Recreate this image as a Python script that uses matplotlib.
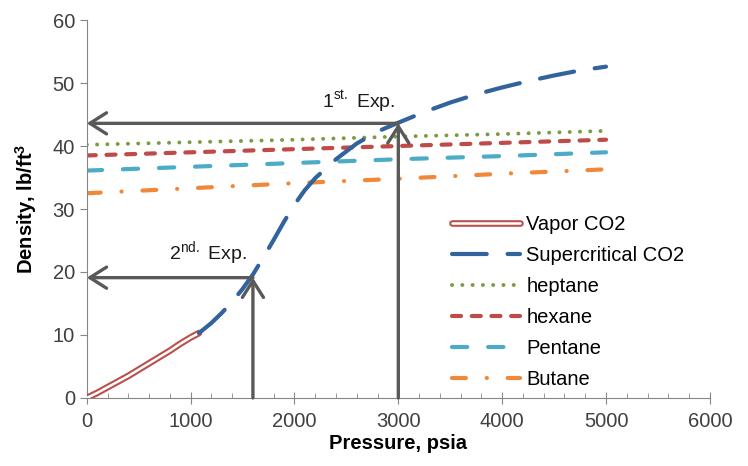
import matplotlib
matplotlib.use("Agg")
import matplotlib.pyplot as plt
import matplotlib.patheffects as pe
from matplotlib.ticker import MultipleLocator

plt.rcParams["font.family"] = ["Liberation Sans", "DejaVu Sans"]
plt.rcParams["mathtext.fontset"] = "custom"
plt.rcParams["mathtext.rm"] = "Liberation Sans"
plt.rcParams["mathtext.bf"] = "Liberation Sans:bold"
plt.rcParams["lines.scale_dashes"] = False

# ── data
vapor_p = [0, 100, 200, 300, 400, 500, 600, 700, 800, 900, 1000, 1080]
vapor_rho = [0, 0.8, 1.7, 2.6, 3.5, 4.5, 5.5, 6.5, 7.5, 8.6, 9.6, 10.3]

super_p = [1080, 1200, 1300, 1400, 1500, 1600, 1700, 1800, 1900, 2000, 2100, 2200,
           2300, 2400, 2600, 2800, 3000, 3250, 3500, 3750, 4000, 4250, 4500, 4750, 5000]
super_rho = [10.3, 11.9, 13.5, 15.3, 17.3, 19.6, 22.3, 25.1, 28.0, 30.7, 33.0, 34.9,
             36.4, 37.9, 40.4, 42.3, 43.7, 45.4, 46.9, 48.2, 49.3, 50.3, 51.2, 52.0, 52.6]

liq_p = [0, 1000, 2000, 3000, 4000, 5000]
heptane = [40.2, 40.6, 41.0, 41.5, 41.9, 42.4]
hexane = [38.5, 39.0, 39.5, 40.0, 40.5, 41.0]
pentane = [36.1, 36.7, 37.3, 37.9, 38.4, 39.0]
butane = [32.5, 33.3, 34.1, 34.8, 35.6, 36.3]

exp_p = [3000, 1600]
exp_rho = [43.6, 19.1]
exp_labels = [r"1$^{\rm st.}$ Exp.", r"2$^{\rm nd.}$ Exp."]
exp_text_xy = [(2620, 45.0), (1170, 20.6)]

fig = plt.figure(figsize=(7.48, 4.66), dpi=100)
ax = fig.add_axes([0.116, 0.146, 0.833, 0.811])

ax.plot(vapor_p, vapor_rho, color="white", lw=1.8, solid_capstyle="round",
        path_effects=[pe.Stroke(linewidth=4.8, foreground="#B9504C",
                                capstyle="round"), pe.Normal()],
        label="Vapor CO2", zorder=3)
ax.plot(super_p, super_rho, color="#33639D", lw=3, dashes=(25, 15),
        dash_capstyle="round", label="Supercritical CO2", zorder=3)
ax.plot(liq_p, heptane, color="#7A9C3E", lw=2.8, dashes=(0.1, 7.3),
        dash_capstyle="round", label="heptane", zorder=2)
ax.plot(liq_p, hexane, color="#BE4B48", lw=3, dashes=(6.5, 7.7),
        dash_capstyle="round", label="hexane", zorder=2)
ax.plot(liq_p, pentane, color="#4BACC6", lw=3, dashes=(11, 15),
        dash_capstyle="round", label="Pentane", zorder=2)
ax.plot(liq_p, butane, color="#F0883A", lw=3, dashes=(10, 15, 0.1, 15),
        dash_capstyle="round", label="Butane", zorder=2)

# ── experiment arrows
for p, rho, lab, (tx, ty) in zip(exp_p, exp_rho, exp_labels, exp_text_xy):
    arrow = dict(arrowstyle="->,head_length=0.6,head_width=0.38", lw=2.4,
                 color="#595959", shrinkA=0, shrinkB=0, mutation_scale=20)
    ax.annotate("", xy=(p, rho), xytext=(p, 0), arrowprops=arrow,
                annotation_clip=False, zorder=4)
    ax.annotate("", xy=(0, rho), xytext=(p, rho), arrowprops=arrow,
                annotation_clip=False, zorder=4)
    ax.text(tx, ty, lab, fontsize=14, ha="center", va="bottom", color="#1a1a1a")

ax.set_xlim(0, 6000)
ax.set_ylim(0, 60)
ax.xaxis.set_major_locator(MultipleLocator(1000))
ax.xaxis.set_minor_locator(MultipleLocator(200))
ax.yaxis.set_major_locator(MultipleLocator(10))

for s in ["top", "right"]:
    ax.spines[s].set_visible(False)
for s in ["left", "bottom"]:
    ax.spines[s].set_color("#868686")
ax.tick_params(axis="x", which="major", direction="inout", length=8, color="#868686",
               labelsize=14.5, labelcolor="#404040", pad=6)
ax.tick_params(axis="x", which="minor", direction="in", length=3.5, color="#868686")
ax.tick_params(axis="y", which="major", direction="out", length=5, color="#868686",
               labelsize=14.5, labelcolor="#404040")

ax.set_xlabel("Pressure, psia", fontsize=14.5, fontweight="bold", labelpad=2)
ax.set_ylabel(r"Density, lb/ft$^{\bf 3}$", fontsize=14.5, fontweight="bold", labelpad=10)

ax.legend(loc="upper left", bbox_to_anchor=(0.604, 0.539), bbox_transform=fig.transFigure,
          frameon=False, fontsize=14.5, handlelength=3.4, handletextpad=0.3,
          labelspacing=0.6, borderpad=0, borderaxespad=0)

fig.savefig("out.png", dpi=100)
plt.close(fig)
